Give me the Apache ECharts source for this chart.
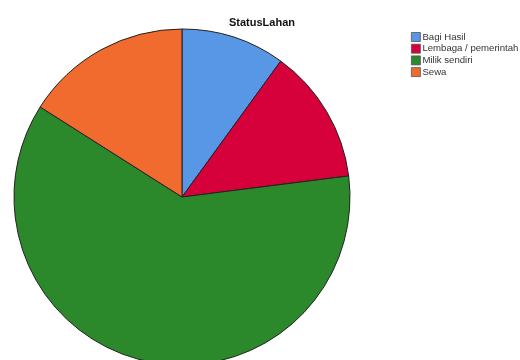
<!DOCTYPE html>
<html>
<head>
<meta charset="utf-8">
<script src="https://cdn.jsdelivr.net/npm/echarts@6/dist/echarts.min.js"></script>
<style>
html,body{margin:0;padding:0;background:#fff;}
#chart{width:520px;height:360px;}
</style>
</head>
<body>
<div id="chart"></div>
<script>
// Land status shares (percent)
const categories = ['Bagi Hasil', 'Lembaga / pemerintah', 'Milik sendiri', 'Sewa'];
const shares = [10, 13, 61, 16];
const sliceColors = ['#5896E6', '#D6003A', '#2B882B', '#F26B2E'];

const chart = echarts.init(document.getElementById('chart'), null, {renderer: 'canvas'});
chart.setOption({
  animation: false,
  backgroundColor: '#ffffff',
  title: {
    text: 'StatusLahan',
    left: 257,
    top: 12,
    textAlign: 'center',
    textStyle: {fontFamily: 'Liberation Sans, Arial, sans-serif', fontSize: 11, fontWeight: 'bold', color: '#111'}
  },
  legend: {
    orient: 'vertical',
    left: 411,
    top: 32,
    padding: 0,
    itemWidth: 9,
    itemHeight: 9,
    itemGap: 1.7,
    icon: 'rect',
    data: categories,
    itemStyle: {borderColor: '#555', borderWidth: 0.8},
    textStyle: {fontFamily: 'Liberation Sans, Arial, sans-serif', fontSize: 9.6, lineHeight: 9, color: '#333', padding: [0, 0, 0, -3]}
  },
  series: [{
    type: 'pie',
    center: [182, 197],
    radius: 168,
    startAngle: 90,
    clockwise: true,
    label: {show: false},
    labelLine: {show: false},
    emphasis: {disabled: true},
    itemStyle: {borderColor: '#222', borderWidth: 1},
    data: categories.map((name, i) => ({
      name: name,
      value: shares[i],
      itemStyle: {color: sliceColors[i]}
    }))
  }]
});
</script>
</body>
</html>
